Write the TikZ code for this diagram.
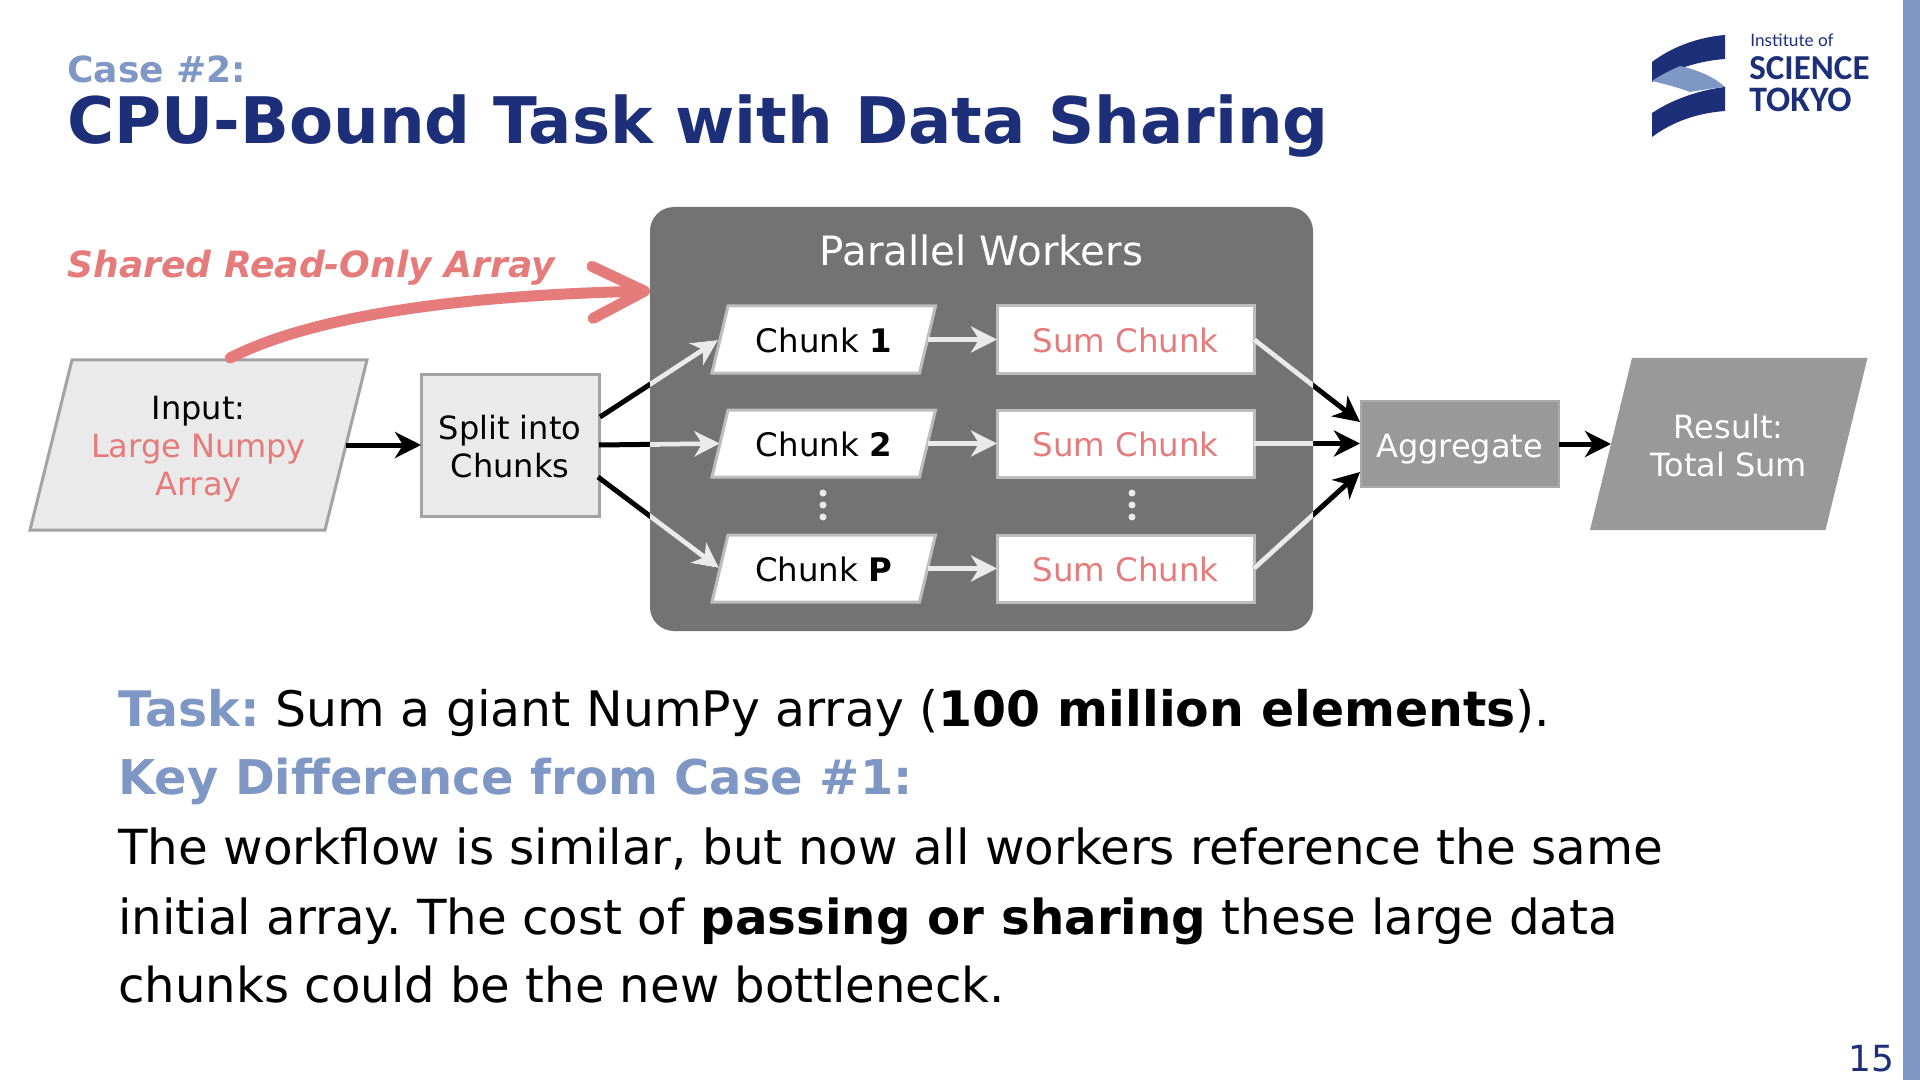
\documentclass[tikz,border=0pt]{standalone}
\usepackage{fontspec}
\setmainfont{DejaVu Sans}
\newfontfamily\logofont{Lato}
\newfontfamily\logobold{Carlito}
\usetikzlibrary{arrows.meta}
\frenchspacing
\definecolor{navy}{HTML}{1C2F78}
\definecolor{lblue}{HTML}{7F97C4}
\definecolor{pinkc}{HTML}{E57B7B}
\definecolor{panelc}{HTML}{737373}
\definecolor{boxc}{HTML}{EAEAEA}
\definecolor{edgec}{HTML}{A3A3A3}
\definecolor{edgel}{HTML}{BDBDBD}
\definecolor{darkbox}{HTML}{999999}
\newcommand{\fs}[1]{\fontsize{#1}{#1}\selectfont}
\newcommand{\dn}[1]{\rule{0pt}{#1}}
% name, cx, cy, body width, height, slant (all px), shape options, text
\newcommand{\paranode}[8]{%
  \path[#7, line width=1.5pt, line join=miter]
    ({#2-#4/2-#6/2},{#3+#5/2}) -- ({#2+#4/2-#6/2},{#3+#5/2}) --
    ({#2+#4/2+#6/2},{#3-#5/2}) -- ({#2-#4/2+#6/2},{#3-#5/2}) -- cycle;
  \node[rect, minimum width=#4*0.5pt, minimum height=#5*0.5pt] (#1) at (#2,#3) {#8};
}
\tikzset{
  rect/.style={rectangle, inner sep=0pt, outer sep=0pt, align=center, font=\fs{16}, line width=1.5pt},
  blackarrow/.style={line width=2.5pt, black, -{Stealth[length=13pt,width=13pt,inset=4pt]}},
  lightarrow/.style={line width=2.5pt, boxc, -{Stealth[length=13pt,width=13pt,inset=4pt]}},
  bodyline/.style={anchor=base west, inner sep=0pt},
  dotc/.style={circle, fill=boxc, inner sep=0pt, minimum size=3.5pt},
}
\begin{document}
\begin{tikzpicture}[x=0.5pt,y=-0.5pt]
\useasboundingbox (0,0) rectangle (1920,1080);
\fill[white] (0,0) rectangle (1920,1080);
\fill[lblue] (1903,0) rectangle (1920,1080);
% titles
\node[anchor=base west, inner sep=0pt, text=lblue, font=\fs{18}\bfseries] (casetitle) at (67,83) {Case \#2:};
\node[anchor=base west, inner sep=0pt, text=navy, font=\fs{32.1}\bfseries] (maintitle) at (67,144) {CPU-Bound Task with Data Sharing};
\node[anchor=base, inner sep=0pt, text=navy, font=\fs{18}] (pagenum) at (1871,1071) {15};
% logo
\fill[navy] (1652,62) .. controls (1673,46) and (1700,37) .. (1725,35) -- (1725,59) .. controls (1697,61) and (1672,70) .. (1652,82) -- cycle;
\fill[lblue] (1652,81) .. controls (1659,76) and (1671,70) .. (1680,66) .. controls (1698,70) and (1714,77) .. (1725,87) .. controls (1713,88) and (1702,90) .. (1690,92) .. controls (1677,87) and (1664,84) .. (1652,81) -- cycle;
\fill[navy] (1652,113) .. controls (1673,99) and (1700,90) .. (1725,87) -- (1725,111) .. controls (1697,113) and (1672,122) .. (1652,137) -- cycle;
\node[anchor=base west, inner sep=0pt, text=navy, font=\logofont\fs{8.6}] (logoa) at (1750,47) {Institute of};
\node[anchor=base west, inner sep=0pt, text=navy, font=\logobold\bfseries\fs{17.5}] (logob) at (1749,79.5) {SCIENCE};
\node[anchor=base west, inner sep=0pt, text=navy, font=\logobold\bfseries\fs{17.9}] (logoc) at (1749,112) {TOKYO};
% panel
\fill[panelc, rounded corners=12pt] (650,207) rectangle (1313,631);
\path (650,207) coordinate (panelNW) (1313,631) coordinate (panelSE);
\node[text=white, inner sep=0pt, font=\fs{20.2}] (ptitle) at (981.5,250) {Parallel Workers};
% nodes
\paranode{input}{198.5}{445}{295}{170}{42}{draw=edgec, fill=boxc}{\dn{15.5pt}Input:\\[3pt]\textcolor{pinkc}{Large Numpy}\\[3pt]\textcolor{pinkc}{Array}}
\node[rect, draw=edgec, fill=boxc, minimum width=89pt, minimum height=71pt] (split) at (510,445) {\dn{13.5pt}Split into\\[3pt]Chunks};
\paranode{c1}{823.75}{339.5}{207.5}{67}{16}{draw=edgel, fill=white}{\fs{16.2}\dn{13.5pt}Chunk \textbf{1}}
\paranode{c2}{823.75}{443.5}{207.5}{67}{16}{draw=edgel, fill=white}{\fs{16.2}\dn{13.5pt}Chunk \textbf{2}}
\paranode{cp}{823.75}{568.5}{207.5}{67}{16}{draw=edgel, fill=white}{\fs{16.2}\dn{13.5pt}Chunk \textbf{P}}
\node[rect, draw=edgel, fill=white, minimum width=128.5pt, minimum height=33.5pt, text=pinkc, font=\fs{16.2}] (s1) at (1125.5,339.5) {\dn{13.5pt}Sum Chunk};
\node[rect, draw=edgel, fill=white, minimum width=128.5pt, minimum height=33.5pt, text=pinkc, font=\fs{16.2}] (s2) at (1125.5,443.5) {\dn{13.5pt}Sum Chunk};
\node[rect, draw=edgel, fill=white, minimum width=128.5pt, minimum height=33.5pt, text=pinkc, font=\fs{16.2}] (sp) at (1125.5,568.5) {\dn{13.5pt}Sum Chunk};
\node[rect, fill=darkbox, draw=darkbox!85!white, line width=1pt, minimum width=99pt, minimum height=43pt, text=white] (agg) at (1459.5,444) {\dn{16.5pt}Aggregate};
\paranode{res}{1728.75}{444}{235.5}{172}{42}{fill=darkbox}{\textcolor{white}{\dn{13.5pt}Result:}\\[3pt]\textcolor{white}{Total Sum}}
% dots
\foreach \n/\x in {a/823,b/1132} \foreach \m/\y in {1/493,2/505,3/517}
  \node[dotc] (dot\n\m) at (\x,\y) {};
% coordinates
\coordinate (sa) at (600,417);
\coordinate (sb) at (599,445);
\coordinate (sc) at (598,477);
\coordinate (ca) at (718,340);
\coordinate (cb) at (719,568);
\coordinate (aa) at (1360,422);
\coordinate (ab) at (1360,443.5);
\coordinate (ac) at (1360,472);
\coordinate (pinkstart) at (230,358);
\coordinate (pinkend) at (650,291);
% connectors
\draw[blackarrow] (input.east) -- (split.west |- input.east);
\draw[blackarrow] (agg.east) -- (res.west |- agg.east);
\foreach \a/\b in {sa/ca, sb/c2.west, sc/cb, s1.east/aa, s2.east/ab, sp.east/ac}
  \draw[blackarrow] (\a) -- (\b);
\begin{scope}
\clip (panelNW) rectangle (panelSE);
\foreach \a/\b in {sa/ca, sb/c2.west, sc/cb, s1.east/aa, s2.east/ab, sp.east/ac}
  \draw[lightarrow] (\a) -- (\b);
\end{scope}
\foreach \a/\b in {c1/s1,c2/s2,cp/sp}
  \draw[lightarrow] (\a.east) -- (\b.west);
% pink arrow
\draw[pinkc, line width=5.5pt, line cap=round, line join=round, -{Straight Barb[round,length=26pt,width=26pt,line width=5.5pt]}] (pinkstart) .. controls (320,312) and (480,295) .. (pinkend);
\node[anchor=base west, inner sep=0pt, text=pinkc, font=\fs{18.05}\bfseries\itshape] (shared) at (67,278) {Shared Read-Only Array};
% body
\node[bodyline, font=\fs{24.46}] (l1) at (118,726.5) {\textcolor{lblue}{\textbf{Task:}} Sum a giant NumPy array (\textbf{100 million elements}).};
\node[bodyline, font=\fs{23.97}] (l2) at (118,794.5) {\textcolor{lblue}{\textbf{Key Difference from Case \#1:}}};
\node[bodyline, font=\fs{24.17}] (l3) at (118,864.5) {The workflow is similar, but now all workers reference the same};
\node[bodyline, font=\fs{24.15}] (l4) at (118,934.5) {initial array. The cost of \textbf{passing or sharing} these large data};
\node[bodyline, font=\fs{24.06}] (l5) at (118,1002.5) {chunks could be the new bottleneck.};
\end{tikzpicture}
\end{document}
